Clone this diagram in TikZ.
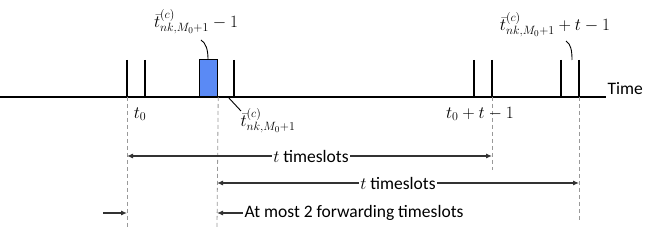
\documentclass[tikz,border=0pt]{standalone}
\usepackage{fontspec}
\setmainfont{Carlito}
\usetikzlibrary{arrows.meta}
\definecolor{slotblue}{RGB}{90,138,245}
\definecolor{arrgray}{RGB}{50,50,50}
\begin{document}
\begin{tikzpicture}[x=1pt,y=-1pt,
  tick/.style={line width=1.4pt,black},
  guide/.style={dashed,gray!80,line width=0.8pt,dash pattern=on 4pt off 3pt},
  span/.style={arrgray,line width=1.1pt,-{Latex[length=6pt,width=5pt]}},
  lbl/.style={font=\fontsize{17.5}{20}\selectfont,inner sep=1.5pt},
  mlbl/.style={font=\fontsize{18}{21}\selectfont,inner sep=1pt},
  lead/.style={black,line width=0.9pt}]
\useasboundingbox (0,0) rectangle (654,240);
% axis
\coordinate (axL) at (0,97);
\coordinate (axR) at (606,97);
\draw[line width=1.2pt] (axL) -- (axR);
\node[lbl,anchor=west] (time) at (606,89) {Time};
% ticks
\foreach \x/\n in {127/a,145/b,234/c,474/d,492/e,561/f,579/g}{
  \coordinate (top\n) at (\x,60);
  \coordinate (bot\n) at (\x,97);
  \draw[tick] (top\n) -- (bot\n);
}
% slot rectangle
\node[draw=black,line width=1.2pt,fill=slotblue,minimum width=18pt,minimum height=37pt,inner sep=0pt,anchor=south west] (slot) at (199,97) {};
% dashed guides
\coordinate (gA) at (127,228);
\coordinate (gB) at (217,228);
\coordinate (gC) at (492,170);
\coordinate (gD) at (579,221);
\draw[guide] (bota) -- (gA);
\draw[guide] (slot.south east) -- (gB);
\draw[guide] (bote) -- (gC);
\draw[guide] (botg) -- (gD);
% labels on axis
\node[mlbl] (t0) at (140,114) {$t_0$};
\node[mlbl] (t0t) at (480,114) {$t_0+t-1$};
\node[mlbl] (tb) at (268,121) {$\bar{t}^{(c)}_{nk,M_0+1}$};
\node[mlbl] (tbm) at (196,22) {$\bar{t}^{(c)}_{nk,M_0+1}-1$};
\node[mlbl] (tbp) at (555,25) {$\bar{t}^{(c)}_{nk,M_0+1}+t-1$};
% leaders
\coordinate (l1s) at (228,97);
\coordinate (l1e) at (241,111);
\draw[lead] (l1s) -- (l1e);
\coordinate (l2s) at (201,40);
\coordinate (l2e) at (208,59);
\draw[lead] (l2s) .. controls (206,43) and (208,50) .. (l2e);
\coordinate (l3s) at (566,41);
\coordinate (l3e) at (572,60);
\draw[lead] (l3s) .. controls (571,44) and (572,51) .. (l3e);
% span arrows
\node[lbl] (s1) at (311,156) {$t$ timeslots};
\coordinate (a1l) at (127,156);
\coordinate (a1r) at (492,156);
\draw[span] (s1.west) -- (a1l);
\draw[span] (s1.east) -- (a1r);
\node[lbl] (s2) at (398,183) {$t$ timeslots};
\coordinate (a2l) at (217,183);
\coordinate (a2r) at (579,183);
\draw[span] (s2.west) -- (a2l);
\draw[span] (s2.east) -- (a2r);
\node[lbl,anchor=west] (s3) at (243,213) {At most 2 forwarding timeslots};
\coordinate (a3l) at (217,213);
\coordinate (a3s) at (103,213);
\coordinate (a3e) at (127,213);
\draw[span] (s3.west) -- (a3l);
\draw[span] (a3s) -- (a3e);
\end{tikzpicture}
\end{document}
